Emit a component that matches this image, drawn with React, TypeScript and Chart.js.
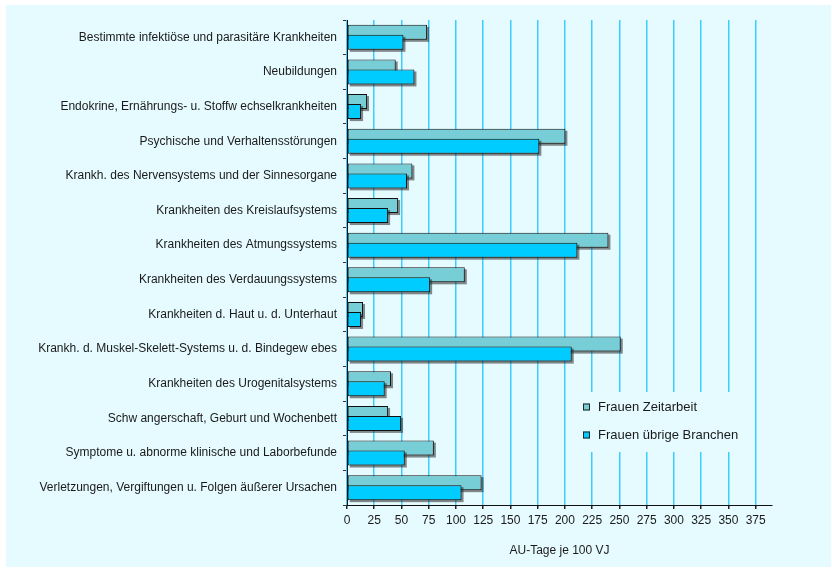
import { useEffect, useRef } from 'react';
import { Chart, registerables } from 'chart.js';

Chart.register(...registerables);

const categories = [
  'Bestimmte infektiöse und parasitäre Krankheiten',
  'Neubildungen',
  'Endokrine, Ernährungs- u. Stoffw echselkrankheiten',
  'Psychische und Verhaltensstörungen',
  'Krankh. des Nervensystems und der Sinnesorgane',
  'Krankheiten des Kreislaufsystems',
  'Krankheiten des Atmungssystems',
  'Krankheiten des Verdauungssystems',
  'Krankheiten d. Haut u. d. Unterhaut',
  'Krankh. d. Muskel-Skelett-Systems u. d. Bindegew ebes',
  'Krankheiten des Urogenitalsystems',
  'Schw angerschaft, Geburt und Wochenbett',
  'Symptome u. abnorme klinische und Laborbefunde',
  'Verletzungen, Vergiftungen u. Folgen äußerer Ursachen',
];

const zeitarbeit = [73.5, 44.7, 18.4, 200.4, 60, 46.9, 239.9, 108.1, 14.7, 251.2, 40.4, 37.7, 79.7, 123.5];
const uebrigeBranchen = [51.8, 61.9, 12.9, 176.5, 55.1, 37.7, 211.4, 76.3, 12.9, 206.2, 34.6, 49.6, 53, 105.1];

const seriesNames = ['Frauen Zeitarbeit', 'Frauen übrige Branchen'];
const seriesColors = ['#77CED6', '#00CCFF'];
const xTickValues = [0, 25, 50, 75, 100, 125, 150, 175, 200, 225, 250, 275, 300, 325, 350, 375];
const xAxisMax = 390;
const xAxisTitle = 'AU-Tage je 100 VJ';

const PANEL = '#E6FBFF';
const FONT = "'Liberation Sans', Arial, sans-serif";

export default function App() {
  const canvasRef = useRef<HTMLCanvasElement | null>(null);

  useEffect(() => {
    document.body.style.margin = '0';
    const canvas = canvasRef.current;
    if (!canvas) return;

    const panelPlugin = {
      id: 'panelBg',
      beforeDraw(chart: any) {
        const ctx = chart.ctx;
        ctx.save();
        ctx.fillStyle = '#ffffff';
        ctx.fillRect(0, 0, chart.width, chart.height);
        ctx.fillStyle = PANEL;
        ctx.fillRect(6, 5, 825, 562);
        ctx.restore();
      },
    };

    const orderPlugin = {
      id: 'barOrder',
      beforeDatasetsDraw(chart: any) {
        const ctx = chart.ctx;
        const area = chart.chartArea;
        ctx.save();
        ctx.beginPath();
        ctx.rect(area.left, area.top - 2, area.right - area.left + 4, area.bottom - area.top + 4);
        ctx.clip();
        for (let i = 0; i < chart.data.datasets.length; i++) {
          const meta = chart.getDatasetMeta(i);
          if (meta.hidden) continue;
          // shadows
          ctx.fillStyle = 'rgba(40,40,40,0.55)';
          meta.data.forEach((el: any) => {
            const p = el.getProps(['x', 'y', 'base', 'height'], true);
            const left = Math.min(p.x, p.base);
            const w = Math.abs(p.x - p.base);
            ctx.fillRect(left + 2, p.y - p.height / 2 + 2, w, p.height);
          });
          meta.controller.draw();
        }
        ctx.restore();
        return false;
      },
    };

    const legendPlugin = {
      id: 'customLegend',
      afterDraw(chart: any) {
        const ctx = chart.ctx;
        ctx.save();
        ctx.fillStyle = PANEL;
        ctx.fillRect(571, 392, 179, 60);
        const rows = [407, 435];
        rows.forEach((y, i) => {
          ctx.fillStyle = seriesColors[i];
          ctx.fillRect(583, y - 3.5, 7, 7);
          ctx.strokeStyle = '#222';
          ctx.lineWidth = 1;
          ctx.strokeRect(583.5, y - 3, 6, 6);
          ctx.fillStyle = '#1a1a1a';
          ctx.font = `13px ${FONT}`;
          ctx.textBaseline = 'middle';
          ctx.textAlign = 'left';
          ctx.fillText(seriesNames[i], 598, y);
        });
        ctx.restore();
      },
    };

    const chart = new Chart(canvas, {
      type: 'bar',
      data: {
        labels: categories,
        datasets: [
          {
            label: seriesNames[0],
            data: zeitarbeit,
            backgroundColor: seriesColors[0],
            borderColor: '#111',
            borderWidth: 1,
            borderSkipped: false,
            categoryPercentage: 0.577,
            barPercentage: 1.5,
          },
          {
            label: seriesNames[1],
            data: uebrigeBranchen,
            backgroundColor: seriesColors[1],
            borderColor: '#111',
            borderWidth: 1,
            borderSkipped: false,
            categoryPercentage: 0.577,
            barPercentage: 1.5,
          },
        ],
      },
      options: {
        indexAxis: 'y',
        animation: false,
        responsive: false,
        maintainAspectRatio: false,
        devicePixelRatio: 1,
        layout: { padding: { left: 0, right: 60, top: 20, bottom: 11 } },
        plugins: {
          legend: { display: false },
          tooltip: { enabled: false },
        },
        scales: {
          y: {
            type: 'category',
            afterFit: (s: any) => {
              s.width = 347;
            },
            grid: {
              display: true,
              drawOnChartArea: false,
              drawTicks: true,
              tickLength: 4,
              color: '#333',
              offset: true,
            },
            border: { display: true, color: '#111', width: 1 },
            ticks: {
              autoSkip: false,
              color: '#1a1a1a',
              padding: 6,
              font: { family: FONT, size: 12 },
            },
          },
          x: {
            type: 'linear',
            min: 0,
            max: xAxisMax,
            afterFit: (s: any) => {
              s.height = 53;
            },
            afterBuildTicks: (s: any) => {
              s.ticks = xTickValues.map((v) => ({ value: v }));
            },
            grid: {
              display: true,
              drawOnChartArea: true,
              drawTicks: true,
              tickLength: 4,
              color: '#3CCEFF',
              tickColor: '#222',
              lineWidth: 1.5,
            },
            border: { display: true, color: '#111', width: 1 },
            ticks: {
              color: '#1a1a1a',
              padding: 4,
              maxRotation: 0,
              autoSkip: false,
              font: { family: FONT, size: 12 },
            },
            title: {
              display: true,
              text: xAxisTitle,
              color: '#1a1a1a',
              font: { family: FONT, size: 12 },
              padding: { top: 0, bottom: 0 },
            },
          },
        },
      },
      plugins: [panelPlugin, orderPlugin, legendPlugin],
    });

    return () => {
      chart.destroy();
    };
  }, []);

  return (
    <div style={{ position: 'absolute', left: 0, top: 0, width: 832, height: 569 }}>
      <canvas ref={canvasRef} width={832} height={569} style={{ width: 832, height: 569, display: 'block' }} />
    </div>
  );
}
